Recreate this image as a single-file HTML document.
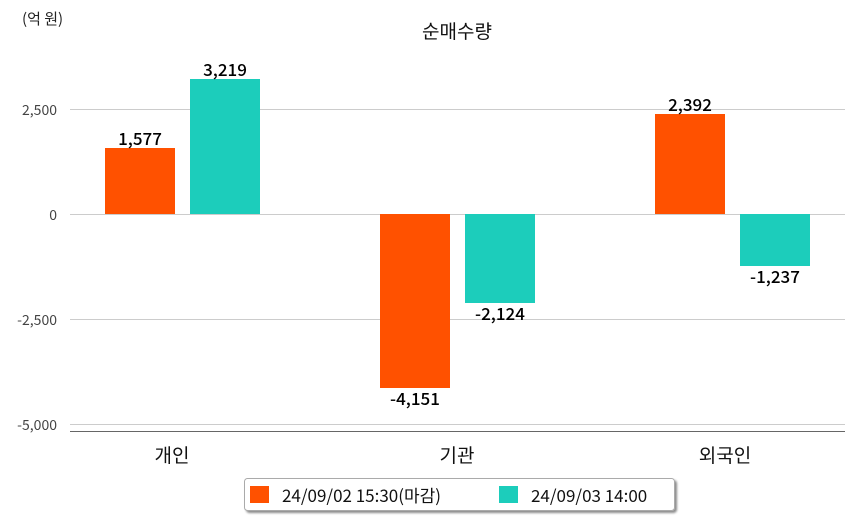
<!DOCTYPE html>
<html><head><meta charset="utf-8"><style>
body{margin:0;background:#fff;}
svg{display:block;font-family:"Noto Sans CJK KR","Liberation Sans",sans-serif;}
</style></head><body>
<svg width="854" height="520" viewBox="0 0 854 520">
<defs><filter id="sh" x="-5%" y="-20%" width="110%" height="160%"><feDropShadow dx="2" dy="2" stdDeviation="1" flood-color="#000" flood-opacity="0.45"/></filter></defs>
<text x="22" y="24" font-size="15" fill="#222">(억 원)</text>
<text x="457" y="38" font-size="19" fill="#111" text-anchor="middle">순매수량</text>
<g stroke="#cccccc" stroke-width="1">
<line x1="70" y1="109.5" x2="845" y2="109.5"/>
<line x1="70" y1="214.5" x2="845" y2="214.5"/>
<line x1="70" y1="319.5" x2="845" y2="319.5"/>
<line x1="70" y1="424.5" x2="845" y2="424.5"/>
</g>
<line x1="70" y1="431.5" x2="845" y2="431.5" stroke="#666" stroke-width="1"/>
<g font-size="14" fill="#444" text-anchor="end">
<text x="57" y="115">2,500</text>
<text x="57" y="220">0</text>
<text x="57" y="325">-2,500</text>
<text x="57" y="430">-5,000</text>
</g>
<g font-size="19" fill="#111" text-anchor="middle">
<text x="172" y="462">개인</text>
<text x="457" y="462">기관</text>
<text x="725" y="462">외국인</text>
</g>
<rect x="105" y="148" width="70" height="66" fill="#ff5100"/>
<rect x="190" y="79" width="70" height="135" fill="#1ccdbb"/>
<rect x="380" y="214" width="70" height="174" fill="#ff5100"/>
<rect x="465" y="214" width="70" height="89" fill="#1ccdbb"/>
<rect x="655" y="114" width="70" height="100" fill="#ff5100"/>
<rect x="740" y="214" width="70" height="52" fill="#1ccdbb"/>
<g font-size="17" fill="#000" text-anchor="middle" font-weight="500">
<text x="140" y="145">1,577</text>
<text x="225" y="76">3,219</text>
<text x="415" y="405">-4,151</text>
<text x="500" y="320">-2,124</text>
<text x="690" y="111">2,392</text>
<text x="775" y="283">-1,237</text>
</g>
<rect x="244.5" y="478.5" width="430" height="32" rx="3" fill="#fff" stroke="#aaa" filter="url(#sh)"/>
<rect x="250" y="486" width="19" height="17" fill="#ff5100"/>
<text x="282" y="502" font-size="17" fill="#111">24/09/02 15:30(마감)</text>
<rect x="499" y="486" width="19" height="17" fill="#1ccdbb"/>
<text x="531" y="502" font-size="17" fill="#111">24/09/03 14:00</text>
</svg>
</body></html>
